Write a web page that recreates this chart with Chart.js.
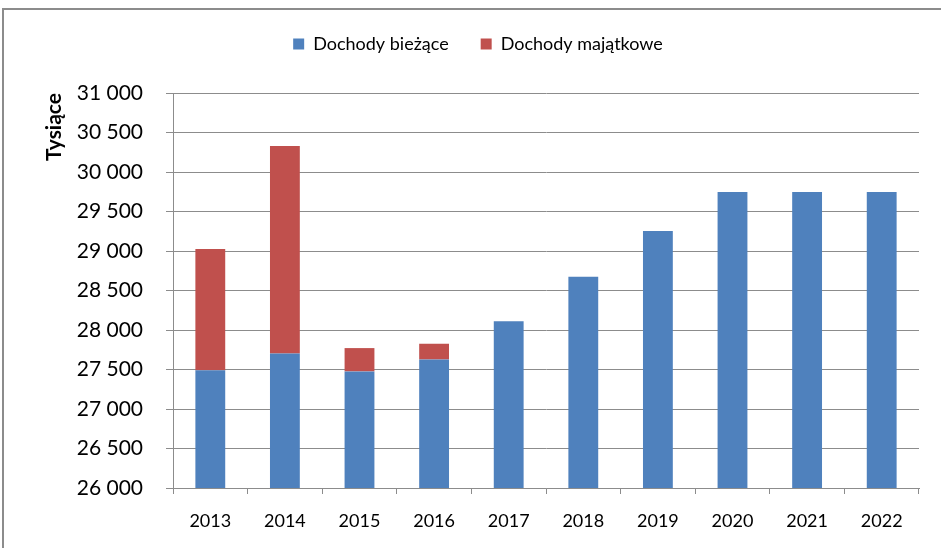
<!DOCTYPE html>
<html>
<head>
<meta charset="utf-8">
<script src="https://cdn.jsdelivr.net/npm/chart.js"></script>
<style>
  html, body { margin: 0; padding: 0; background: #fff; overflow: hidden; }
  #wrap { position: relative; width: 941px; height: 548px; }
  #frame { position: absolute; left: 2px; top: 8px; width: 990px; height: 600px;
           border: 2px solid #8c8c8c; box-sizing: border-box; }
  #chart { position: absolute; left: 0; top: 0; }
</style>
</head>
<body>
<div id="wrap">
  <div id="frame"></div>
  <canvas id="chart" width="941" height="548"></canvas>
</div>
<script>
// dane (tys. zł)
const years = ['2013', '2014', '2015', '2016', '2017', '2018', '2019', '2020', '2021', '2022'];
const dochodyBiezace = [27490, 27703, 27476, 27627, 28110, 28673, 29252, 29747, 29747, 29747];
const dochodyMajatkowe = [1535, 2625, 295, 199, 0, 0, 0, 0, 0, 0];
const yMin = 26000;
const yMax = 31000;
const yStep = 500;

const fmt = v => {
  const s = String(Math.round(v));
  return s.replace(/\B(?=(\d{3})+(?!\d))/g, '\u00a0');
};

// odstęp pod legendą
const legendGap = {
  id: 'legendGap',
  beforeInit(chart) {
    const origFit = chart.legend.fit;
    chart.legend.fit = function () {
      origFit.bind(chart.legend)();
      this.height += 30;
    };
  }
};

const ctx = document.getElementById('chart').getContext('2d');
new Chart(ctx, {
  type: 'bar',
  data: {
    labels: years,
    datasets: [
      {
        label: 'Dochody bieżące',
        data: dochodyBiezace,
        backgroundColor: '#4f81bd',
        barPercentage: 0.4,
        categoryPercentage: 1
      },
      {
        label: 'Dochody majątkowe',
        data: dochodyMajatkowe,
        backgroundColor: '#c0504d',
        barPercentage: 0.4,
        categoryPercentage: 1
      }
    ]
  },
  options: {
    responsive: false,
    animation: false,
    layout: { padding: { top: 3, right: 22, left: 37, bottom: 0 } },
    plugins: {
      legend: {
        position: 'top',
        labels: {
          boxWidth: 11,
          boxHeight: 11,
          padding: 32,
          color: '#000',
          font: { family: 'Lato', size: 18 }
        }
      },
      tooltip: { enabled: false }
    },
    scales: {
      x: {
        stacked: true,
        offset: true,
        grid: {
          offset: true,
          drawOnChartArea: false,
          drawTicks: true,
          tickLength: 6,
          color: '#8c8c8c'
        },
        border: { color: '#8c8c8c', width: 1 },
        ticks: {
          color: '#000',
          padding: 16,
          font: { family: 'Lato', size: 18 }
        },
        afterFit(scale) { scale.height = 60; }
      },
      y: {
        stacked: true,
        min: yMin,
        max: yMax,
        grid: {
          color: '#8c8c8c',
          lineWidth: 1,
          drawTicks: true,
          tickLength: 7
        },
        border: { color: '#8c8c8c', width: 1 },
        ticks: {
          stepSize: yStep,
          color: '#000',
          padding: 23,
          font: { family: 'Lato', size: 21 },
          callback: v => fmt(v)
        },
        title: {
          display: true,
          text: 'Tysiące',
          align: 'end',
          color: '#000',
          font: { family: 'Lato', size: 21, weight: 'bold' },
          padding: { top: 5, bottom: 0 }
        },
        afterFit(scale) { scale.width = 136; }
      }
    }
  },
  plugins: [legendGap]
});
</script>
</body>
</html>
